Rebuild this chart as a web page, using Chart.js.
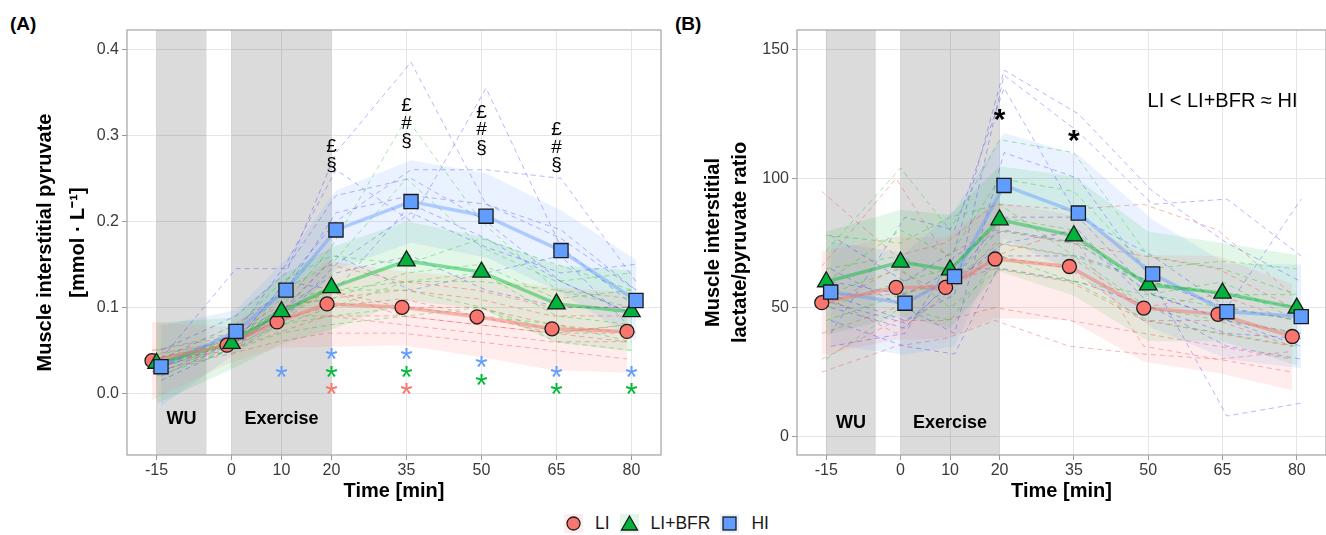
<!DOCTYPE html>
<html lang="en">
<head>
  <meta charset="UTF-8" />
  <title>Muscle interstitial pyruvate and lactate/pyruvate ratio</title>
  <script src="https://cdn.jsdelivr.net/npm/chart.js"></script>
</head>
<style>
  body { margin: 0; background: #fff; font-family: "Liberation Sans", Arial, sans-serif; }
  .wrap { position: relative; width: 1326px; height: 535px; overflow: hidden; }
  .tag { position: absolute; top: 14px; font-size: 19px; line-height: 19px; font-weight: bold; color: #000; }
  #chartA { position: absolute; left: 0; top: 0; }
  #chartB { position: absolute; left: 665px; top: 0; }
  .legend { position: absolute; left: 564px; top: 513px; display: flex; align-items: center; }
  .key { width: 19px; height: 19px; display: inline-block; }
  .key svg { display: block; }
  .lab { font-size: 17.5px; color: #1a1a1a; margin: 0 10px 0 12px; }
</style>
<body>
<div class="wrap">
  <div class="tag" style="left:10px">(A)</div>
  <div class="tag" style="left:675px">(B)</div>
  <canvas id="chartA" width="665" height="505"></canvas>
  <canvas id="chartB" width="661" height="505"></canvas>
  <div class="legend" id="legend"></div>
</div>
<script>
const times = [-15, 0, 10, 20, 35, 50, 65, 80];
const groupNames = ['LI', 'LI+BFR', 'HI'];
const phaseNames = ['WU', 'Exercise'];
const phaseStart = [-15, 0];
const phaseEnd = [-5, 20];

// (A) pyruvate [mmol/L]: group means and band limits
const pyrMeanLI  = [0.038, 0.056, 0.083, 0.104, 0.100, 0.089, 0.075, 0.072];
const pyrMeanBFR = [0.035, 0.058, 0.095, 0.123, 0.154, 0.141, 0.104, 0.095];
const pyrMeanHI  = [0.031, 0.072, 0.120, 0.190, 0.223, 0.206, 0.166, 0.108];
const pyrLoLI  = [-0.008, 0.034, 0.053, 0.054, 0.056, 0.043, 0.027, 0.024];
const pyrHiLI  = [0.083, 0.077, 0.113, 0.154, 0.142, 0.135, 0.123, 0.118];
const pyrLoBFR = [-0.012, 0.028, 0.057, 0.074, 0.108, 0.098, 0.059, 0.049];
const pyrHiBFR = [0.082, 0.088, 0.137, 0.170, 0.200, 0.182, 0.149, 0.143];
const pyrLoHI  = [-0.015, 0.047, 0.084, 0.144, 0.175, 0.158, 0.117, 0.062];
const pyrHiHI  = [0.079, 0.097, 0.156, 0.236, 0.271, 0.256, 0.213, 0.155];

// (A) individual subjects
const pyrSubjLI = [
  [0.040, 0.060, 0.090, 0.150, 0.130, 0.120, 0.100, 0.100],
  [0.030, 0.050, 0.080, 0.120, 0.100, 0.100, 0.080, 0.070],
  [0.050, 0.065, 0.100, 0.110, 0.120, 0.110, 0.090, 0.090],
  [0.035, 0.050, 0.070, 0.090, 0.080, 0.070, 0.060, 0.060],
  [0.045, 0.060, 0.090, 0.120, 0.090, 0.080, 0.070, 0.070],
  [0.025, 0.045, 0.060, 0.070, 0.070, 0.060, 0.050, 0.040],
  [0.040, 0.055, 0.085, 0.100, 0.110, 0.090, 0.070, 0.060],
  [0.030, 0.055, 0.090, 0.090, 0.090, 0.080, 0.070, 0.080]
];
const pyrSubjBFR = [
  [0.040, 0.060, 0.100, 0.170, 0.320, 0.200, 0.120, 0.100],
  [0.030, 0.050, 0.120, 0.150, 0.250, 0.170, 0.130, 0.140],
  [0.050, 0.070, 0.130, 0.160, 0.150, 0.180, 0.150, 0.120],
  [0.020, 0.050, 0.080, 0.100, 0.130, 0.140, 0.090, 0.080],
  [0.035, 0.065, 0.090, 0.120, 0.120, 0.100, 0.070, 0.080],
  [0.030, 0.055, 0.080, 0.090, 0.100, 0.090, 0.080, 0.060],
  [0.045, 0.060, 0.100, 0.110, 0.140, 0.150, 0.110, 0.120],
  [0.025, 0.050, 0.070, 0.080, 0.090, 0.100, 0.060, 0.050],
  [0.040, 0.060, 0.110, 0.120, 0.130, 0.130, 0.120, 0.110]
];
const pyrSubjHI = [
  [0.050, 0.090, 0.140, 0.280, 0.385, 0.220, 0.180, 0.120],
  [0.030, 0.070, 0.150, 0.260, 0.200, 0.355, 0.170, 0.100],
  [0.020, 0.060, 0.130, 0.200, 0.260, 0.260, 0.250, 0.130],
  [0.040, 0.145, 0.145, 0.230, 0.250, 0.200, 0.130, 0.090],
  [0.025, 0.060, 0.090, 0.150, 0.210, 0.170, 0.140, 0.150],
  [0.035, 0.070, 0.100, 0.140, 0.160, 0.120, 0.100, 0.100],
  [0.015, 0.055, 0.100, 0.160, 0.120, 0.140, 0.160, 0.070],
  [0.040, 0.080, 0.120, 0.210, 0.230, 0.220, 0.190, 0.120],
  [0.030, 0.060, 0.130, 0.120, 0.220, 0.180, 0.130, 0.090]
];

// (A) asterisks: change from baseline within each group
const pyrStarTimesLI  = [20, 35];
const pyrStarYLI      = [0.008, 0.008];
const pyrStarTimesBFR = [20, 35, 50, 65, 80];
const pyrStarYBFR     = [0.028, 0.028, 0.018, 0.008, 0.008];
const pyrStarTimesHI  = [10, 20, 35, 50, 65, 80];
const pyrStarYHI      = [0.028, 0.049, 0.049, 0.039, 0.028, 0.028];
// (A) between-group symbols
const pyrSymTimes = [20, 35, 50, 65];
const pyrSymText  = [['£', '§'], ['£', '#', '§'], ['£', '#', '§'], ['£', '#', '§']];
const pyrSymY     = [0.276, 0.314, 0.306, 0.286];

// (B) lactate/pyruvate ratio: group means and band limits
const ratioMeanLI  = [51.9, 57.8, 57.8, 68.8, 65.9, 49.8, 47.4, 38.8];
const ratioMeanBFR = [60.0, 67.6, 64.6, 84.0, 77.8, 58.8, 55.6, 49.8];
const ratioMeanHI  = [56.0, 51.7, 62.0, 97.3, 86.6, 63.0, 48.4, 46.5];
const ratioLoLI  = [31.7, 37.5, 38.0, 45.9, 45.2, 29.0, 24.7, 18.0];
const ratioHiLI  = [71.7, 77.5, 77.0, 91.0, 86.0, 70.4, 70.0, 59.0];
const ratioLoBFR = [39.4, 46.5, 42.0, 64.0, 54.6, 37.0, 37.0, 27.6];
const ratioHiBFR = [79.5, 87.9, 85.9, 104.7, 100.8, 79.5, 75.0, 70.4];
const ratioLoHI  = [35.5, 31.7, 35.0, 76.6, 63.0, 42.0, 30.0, 26.5];
const ratioHiHI  = [75.6, 71.0, 88.0, 117.6, 109.2, 84.0, 67.0, 66.7];

// (B) individual subjects
const ratioSubjLI = [
  [95, 70, 75, 90, 88, 90, 80, 55],
  [66, 100, 70, 80, 75, 70, 65, 50],
  [50, 65, 55, 75, 70, 50, 55, 45],
  [40, 50, 60, 70, 65, 45, 40, 35],
  [25, 35, 38, 45, 35, 32, 30, 25],
  [30, 45, 45, 50, 45, 40, 35, 30],
  [55, 55, 60, 65, 60, 45, 45, 35],
  [55, 40, 55, 70, 80, 35, 30, 33]
];
const ratioSubjBFR = [
  [72, 104, 80, 115, 110, 70, 65, 55],
  [60, 80, 70, 100, 95, 65, 68, 65],
  [78, 75, 85, 90, 70, 60, 55, 50],
  [50, 60, 65, 85, 80, 55, 60, 45],
  [45, 55, 60, 75, 70, 50, 45, 40],
  [30, 50, 45, 70, 60, 45, 40, 35],
  [65, 70, 60, 80, 75, 60, 55, 55],
  [55, 65, 50, 65, 60, 55, 50, 45]
];
const ratioSubjHI = [
  [78, 60, 72, 142, 125, 95, 75, 60],
  [55, 45, 55, 140, 118, 90, 92, 70],
  [40, 85, 80, 135, 85, 70, 50, 92],
  [65, 50, 40, 110, 100, 60, 8, 13],
  [50, 42, 62, 85, 85, 55, 45, 40],
  [45, 35, 32, 70, 70, 60, 50, 45],
  [60, 55, 65, 65, 60, 50, 40, 38],
  [35, 40, 70, 80, 75, 55, 45, 35],
  [52, 44, 60, 75, 80, 50, 35, 30]
];
const ratioStarTimes = [20, 35];
const ratioStarY = [126, 117.6];
const ratioNote = 'LI < LI+BFR ≈ HI';

const FONT = '"Liberation Sans", Arial, Helvetica, sans-serif';
const style = {
  'LI':     { shift: -0.9, fill: '#F8766D', star: '#F8766D', marker: 'circle',   r: 7,  mean: 'rgba(248,118,109,0.5)', band: 'rgba(248,118,109,0.13)', subj: 'rgba(240,70,70,0.4)' },
  'LI+BFR': { shift: 0,    fill: '#00B33C', star: '#00BA38', marker: 'triangle', r: 10, mean: 'rgba(0,186,56,0.45)',   band: 'rgba(0,186,56,0.11)',    subj: 'rgba(0,200,0,0.36)' },
  'HI':     { shift: 0.9,  fill: '#619CFF', star: '#619CFF', marker: 'rect',     r: 10, mean: 'rgba(97,156,255,0.45)', band: 'rgba(97,156,255,0.13)',  subj: 'rgba(40,40,255,0.34)' }
};

function pts(vals, shift) {
  return vals.map((v, i) => ({ x: times[i] + shift, y: v }));
}

// shaded phases, text marks and the panel frame
function decor(p) {
  return {
    id: 'decor',
    beforeDatasetsDraw(chart) {
      const { ctx, chartArea: a, scales: { x } } = chart;
      ctx.save();
      ctx.fillStyle = 'rgba(0,0,0,0.14)';
      phaseNames.forEach((n, i) => {
        const x0 = x.getPixelForValue(phaseStart[i]);
        const x1 = x.getPixelForValue(phaseEnd[i]);
        ctx.fillRect(x0, a.top, x1 - x0, a.bottom - a.top);
      });
      ctx.restore();
    },
    afterDatasetsDraw(chart) {
      const { ctx, scales: { x, y } } = chart;
      ctx.save();
      ctx.textAlign = 'center';
      ctx.fillStyle = '#000';
      ctx.textBaseline = 'middle';
      ctx.font = 'bold 18px ' + FONT;
      phaseNames.forEach((n, i) => {
        ctx.fillText(n, x.getPixelForValue((phaseStart[i] + phaseEnd[i]) / 2), y.getPixelForValue(p.phaseY));
      });
      // asterisks
      ctx.textBaseline = 'alphabetic';
      p.stars.forEach(s => {
        ctx.font = s.font;
        ctx.fillStyle = s.color;
        s.times.forEach((t, i) => {
          ctx.fillText('*', x.getPixelForValue(t), y.getPixelForValue(s.ys[i]) + s.size * 0.58);
        });
      });
      // stacked symbols
      if (p.sym) {
        ctx.fillStyle = '#000';
        ctx.textBaseline = 'middle';
        ctx.font = '19px ' + FONT;
        p.sym.times.forEach((t, i) => {
          const lines = p.sym.text[i];
          const cy = y.getPixelForValue(p.sym.ys[i]);
          lines.forEach((c, j) => {
            ctx.fillText(c, x.getPixelForValue(t), cy + (j - (lines.length - 1) / 2) * 17.5);
          });
        });
      }
      if (p.note) {
        ctx.fillStyle = '#000';
        ctx.textBaseline = 'middle';
        ctx.font = '20px ' + FONT;
        ctx.fillText(p.note.text, x.getPixelForValue(p.note.x), y.getPixelForValue(p.note.y));
      }
      ctx.restore();
    },
    afterDraw(chart) {
      const { ctx, chartArea: a } = chart;
      ctx.save();
      ctx.strokeStyle = '#a3a3a3';
      ctx.lineWidth = 1.2;
      ctx.strokeRect(a.left, a.top, a.right - a.left, a.bottom - a.top);
      ctx.restore();
    }
  };
}

function makePanel(id, p) {
  const datasets = [];
  groupNames.forEach((g, k) => {
    const s = style[g];
    datasets.push({ data: pts(p.lo[k], s.shift), borderColor: 'rgba(0,0,0,0)', borderWidth: 0, pointRadius: 0, fill: false, order: 50 });
    datasets.push({ data: pts(p.hi[k], s.shift), borderColor: 'rgba(0,0,0,0)', borderWidth: 0, pointRadius: 0, fill: '-1', backgroundColor: s.band, order: 50 });
  });
  groupNames.forEach((g, k) => {
    const s = style[g];
    p.subj[k].forEach(row => {
      datasets.push({ data: pts(row, s.shift), borderColor: s.subj, borderWidth: 1, borderDash: [5, 4], pointRadius: 0, fill: false, order: 40 });
    });
  });
  groupNames.forEach((g, k) => {
    const s = style[g];
    datasets.push({ data: pts(p.mean[k], s.shift), borderColor: s.mean, borderWidth: 3.5, pointRadius: 0, fill: false, order: 30 });
  });
  groupNames.forEach((g, k) => {
    const s = style[g];
    datasets.push({
      data: pts(p.mean[k], s.shift), showLine: false,
      pointStyle: s.marker, pointRadius: s.r,
      pointBackgroundColor: s.fill, pointBorderColor: '#1a1a1a', pointBorderWidth: 1.3,
      order: 3 - k
    });
  });

  new Chart(document.getElementById(id), {
    type: 'line',
    data: { datasets },
    options: {
      responsive: false,
      animation: false,
      events: [],
      layout: { autoPadding: false, padding: { top: 30, right: p.padRight, left: 0, bottom: 0 } },
      plugins: { legend: { display: false }, tooltip: { enabled: false } },
      elements: { line: { tension: 0 } },
      scales: {
        x: {
          type: 'linear', min: -20.9, max: 85.9,
          afterBuildTicks: s => { s.ticks = times.map(v => ({ value: v })); },
          afterFit: s => { s.height = 50; s.paddingLeft = 0; s.paddingRight = 0; },
          grid: { color: '#e6e6e6', lineWidth: 1, tickColor: '#9a9a9a', tickLength: 5 },
          border: { display: false },
          ticks: { color: '#3a3a3a', font: { family: FONT, size: 16 }, padding: 1, maxRotation: 0, autoSkip: false },
          title: { display: true, text: 'Time [min]', color: '#000', font: { family: FONT, size: 20, weight: 'bold' }, padding: { top: 0, bottom: 2 } }
        },
        y: {
          type: 'linear', min: p.yMin, max: p.yMax,
          afterBuildTicks: s => { s.ticks = p.yTicks.map(v => ({ value: v })); },
          afterFit: s => { s.width = p.yWidth; s.paddingTop = 0; s.paddingBottom = 0; },
          grid: { color: '#e6e6e6', lineWidth: 1, tickColor: '#9a9a9a', tickLength: 5 },
          border: { display: false },
          ticks: { color: '#3a3a3a', font: { family: FONT, size: 16 }, padding: 3, callback: p.fmt },
          title: {
            display: true, text: p.yTitle, color: '#000',
            font: { family: FONT, size: 20, weight: 'bold', lineHeight: p.titleLH },
            padding: { top: p.titlePad, bottom: 0 }
          }
        }
      }
    },
    plugins: [decor(p)]
  });
}

makePanel('chartA', {
  mean: [pyrMeanLI, pyrMeanBFR, pyrMeanHI],
  lo: [pyrLoLI, pyrLoBFR, pyrLoHI],
  hi: [pyrHiLI, pyrHiBFR, pyrHiHI],
  subj: [pyrSubjLI, pyrSubjBFR, pyrSubjHI],
  yMin: -0.0717, yMax: 0.4225, yTicks: [0, 0.1, 0.2, 0.3, 0.4],
  fmt: v => v.toFixed(1),
  yWidth: 127, padRight: 4,
  yTitle: ['Muscle interstitial pyruvate', '[mmol · L⁻¹]'], titleLH: 1.65, titlePad: 28.5,
  phaseY: -0.030,
  stars: [
    { color: style['HI'].star, times: pyrStarTimesHI, ys: pyrStarYHI, font: '32px ' + FONT, size: 32 },
    { color: style['LI+BFR'].star, times: pyrStarTimesBFR, ys: pyrStarYBFR, font: '32px ' + FONT, size: 32 },
    { color: style['LI'].star, times: pyrStarTimesLI, ys: pyrStarYLI, font: '32px ' + FONT, size: 32 }
  ],
  sym: { times: pyrSymTimes, text: pyrSymText, ys: pyrSymY }
});

makePanel('chartB', {
  mean: [ratioMeanLI, ratioMeanBFR, ratioMeanHI],
  lo: [ratioLoLI, ratioLoBFR, ratioLoHI],
  hi: [ratioHiLI, ratioHiBFR, ratioHiHI],
  subj: [ratioSubjLI, ratioSubjBFR, ratioSubjHI],
  yMin: -7.1, yMax: 157.5, yTicks: [0, 50, 100, 150],
  fmt: v => String(v),
  yWidth: 132, padRight: 0,
  yTitle: ['Muscle interstitial', 'lactate/pyruvate ratio'], titleLH: 1.333, titlePad: 35,
  phaseY: 5.2,
  stars: [
    { color: '#000', times: ratioStarTimes, ys: ratioStarY, font: 'bold 30px ' + FONT, size: 30 }
  ],
  note: { text: ratioNote, x: 65, y: 129.7 }
});

// shared legend
const shapes = {
  circle: c => `<circle cx="9.5" cy="9.5" r="6.5" fill="${c}" stroke="#1a1a1a" stroke-width="1.3"/>`,
  triangle: c => `<polygon points="9.5,2 17.5,16 1.5,16" fill="${c}" stroke="#1a1a1a" stroke-width="1.3"/>`,
  rect: c => `<rect x="3" y="3" width="13" height="13" fill="${c}" stroke="#1a1a1a" stroke-width="1.3"/>`
};
const legend = document.getElementById('legend');
groupNames.forEach(g => {
  const s = style[g];
  const key = document.createElement('span');
  key.className = 'key';
  key.style.background = s.band;
  key.innerHTML = `<svg width="19" height="19">${shapes[s.marker](s.fill)}</svg>`;
  const lab = document.createElement('span');
  lab.className = 'lab';
  lab.textContent = g;
  legend.appendChild(key);
  legend.appendChild(lab);
});
</script>
</body>
</html>
